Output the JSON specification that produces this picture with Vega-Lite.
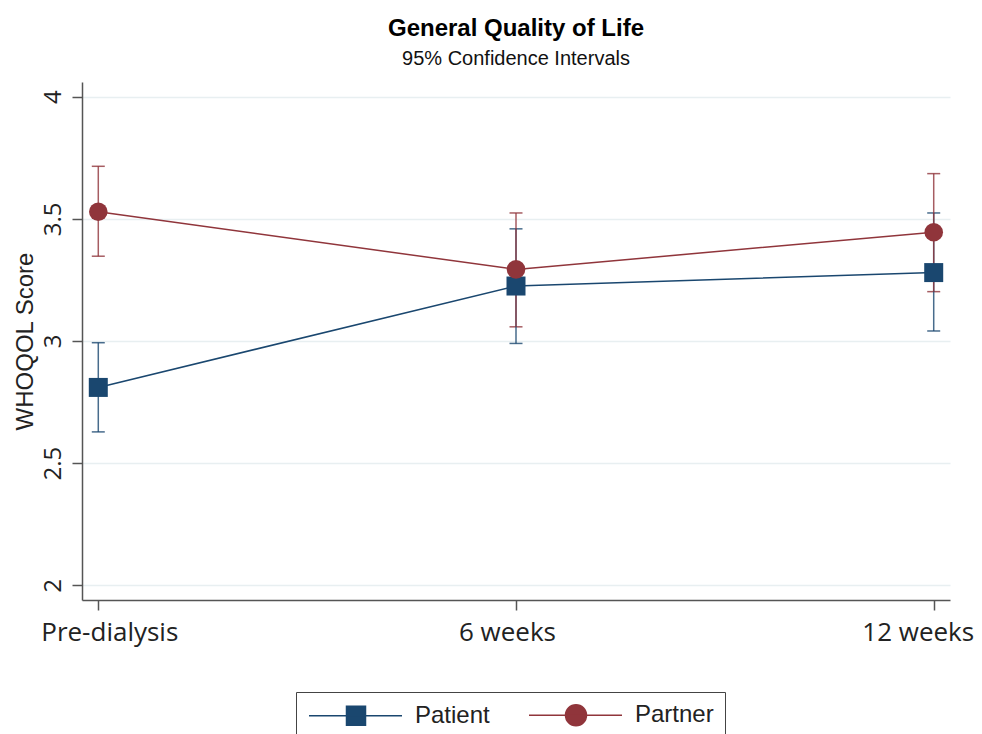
{
  "$schema": "https://vega.github.io/schema/vega-lite/v6.json",
  "width": 868,
  "height": 518,
  "autosize": {"type": "none"},
  "padding": {"left": 82, "top": 82, "right": 32, "bottom": 134},
  "background": "white",
  "title": {
    "text": "General Quality of Life",
    "subtitle": "95% Confidence Intervals",
    "anchor": "middle",
    "font": "Liberation Sans",
    "fontSize": 24,
    "fontWeight": "bold",
    "color": "#000000",
    "subtitleFont": "Liberation Sans",
    "subtitleFontSize": 20,
    "subtitleColor": "#111111",
    "offset": 13,
    "subtitlePadding": 8
  },
  "data": {
    "values": [
      {"time": "Pre-dialysis", "group": "Patient", "mean": 2.81, "lo": 2.628, "hi": 2.993},
      {"time": "6 weeks", "group": "Patient", "mean": 3.225, "lo": 2.99, "hi": 3.459},
      {"time": "12 weeks", "group": "Patient", "mean": 3.28, "lo": 3.041, "hi": 3.524},
      {"time": "Pre-dialysis", "group": "Partner", "mean": 3.529, "lo": 3.347, "hi": 3.715},
      {"time": "6 weeks", "group": "Partner", "mean": 3.293, "lo": 3.058, "hi": 3.524},
      {"time": "12 weeks", "group": "Partner", "mean": 3.445, "lo": 3.202, "hi": 3.685}
    ]
  },
  "encoding": {
    "x": {
      "field": "time",
      "type": "ordinal",
      "sort": ["Pre-dialysis", "6 weeks", "12 weeks"],
      "scale": {"type": "point", "padding": 0.039},
      "title": null,
      "axis": {
        "labelOffset": {
          "condition": [
            {"test": "datum.label === 'Pre-dialysis'", "value": 11},
            {"test": "datum.label === '12 weeks'", "value": -16}
          ],
          "value": -9
        }
      }
    },
    "color": {
      "field": "group",
      "type": "nominal",
      "scale": {"domain": ["Patient", "Partner"], "range": ["#1a476f", "#90353b"]},
      "legend": {
        "title": null,
        "orient": "none",
        "legendX": 214,
        "legendY": 610,
        "direction": "horizontal",
        "strokeColor": "#444444",
        "padding": 11,
        "symbolSize": 400,
        "symbolType": {"expr": "datum.value === 'Patient' ? 'M-1,0H8.3M2.75,-0.95H4.65V0.95H2.75Z' : 'M-1,0H8.3M2.65,0A1.05,1.05 0 1,1 4.75,0A1.05,1.05 0 1,1 2.65,0Z'"},
        "symbolStrokeWidth": 1.5,
        "labelFont": "Liberation Sans",
        "labelFontSize": 24,
        "labelColor": "#222222",
        "labelOffset": 84,
        "columnPadding": 36,
        "encode": {
          "symbols": {
            "update": {
              "shape": {"signal": "datum.value === 'Patient' ? 'M-1,0H8.3M2.75,-0.95H4.65V0.95H2.75Z' : 'M-1,0H8.3M2.65,0A1.05,1.05 0 1,1 4.75,0A1.05,1.05 0 1,1 2.65,0Z'"},
              "stroke": {"signal": "datum.value === 'Patient' ? '#1a476f' : '#90353b'"},
              "fill": {"signal": "datum.value === 'Patient' ? '#1a476f' : '#90353b'"},
              "strokeWidth": {"value": 1.5},
              "opacity": {"value": 1}
            }
          }
        }
      }
    }
  },
  "layer": [
    {
      "mark": {
        "type": "errorbar",
        "ticks": {"size": 13, "thickness": 1.5, "opacity": 0.8},
        "rule": {"strokeWidth": 1.5, "opacity": 0.8}
      },
      "encoding": {
        "y": {
          "field": "lo",
          "type": "quantitative",
          "title": "WHOQOL Score",
          "scale": {"domain": [1.94, 4.06], "nice": false, "zero": false},
          "axis": {"values": [2, 2.5, 3, 3.5, 4], "format": ".1~f"}
        },
        "y2": {"field": "hi"}
      }
    },
    {
      "mark": {"type": "line", "strokeWidth": 1.5},
      "encoding": {
        "y": {
          "field": "mean",
          "type": "quantitative",
          "title": "WHOQOL Score",
          "scale": {"domain": [1.94, 4.06], "nice": false, "zero": false},
          "axis": {"values": [2, 2.5, 3, 3.5, 4], "format": ".1~f"}
        }
      }
    },
    {
      "transform": [{"filter": "datum.group === 'Patient'"}],
      "mark": {"type": "point", "filled": true, "opacity": 1, "size": 361, "shape": "square"},
      "encoding": {
        "y": {
          "field": "mean",
          "type": "quantitative",
          "title": "WHOQOL Score",
          "scale": {"domain": [1.94, 4.06], "nice": false, "zero": false},
          "axis": {"values": [2, 2.5, 3, 3.5, 4], "format": ".1~f"}
        }
      }
    },
    {
      "transform": [{"filter": "datum.group === 'Partner'"}],
      "mark": {"type": "point", "filled": true, "opacity": 1, "size": 346, "shape": "circle"},
      "encoding": {
        "y": {
          "field": "mean",
          "type": "quantitative",
          "title": "WHOQOL Score",
          "scale": {"domain": [1.94, 4.06], "nice": false, "zero": false},
          "axis": {"values": [2, 2.5, 3, 3.5, 4], "format": ".1~f"}
        }
      }
    }
  ],
  "config": {
    "view": {"stroke": null},
    "axis": {
      "domainColor": "#555555",
      "domainWidth": 1.5,
      "tickColor": "#555555",
      "tickWidth": 1.5,
      "tickSize": 10,
      "labelColor": "#222222",
      "titleColor": "#222222",
      "labelFont": "Open Sans",
      "titleFont": "Liberation Sans",
      "titleFontWeight": "normal"
    },
    "axisX": {
      "grid": false,
      "labelAngle": 0,
      "labelFontSize": 26,
      "labelPadding": 9
    },
    "axisY": {
      "grid": true,
      "gridColor": "#e8eff1",
      "gridWidth": 1.5,
      "labelAngle": -90,
      "labelFontSize": 24,
      "labelAlign": "center",
      "labelBaseline": "alphabetic",
      "labelPadding": 12,
      "titleFontSize": 24,
      "titlePadding": 4
    }
  }
}
